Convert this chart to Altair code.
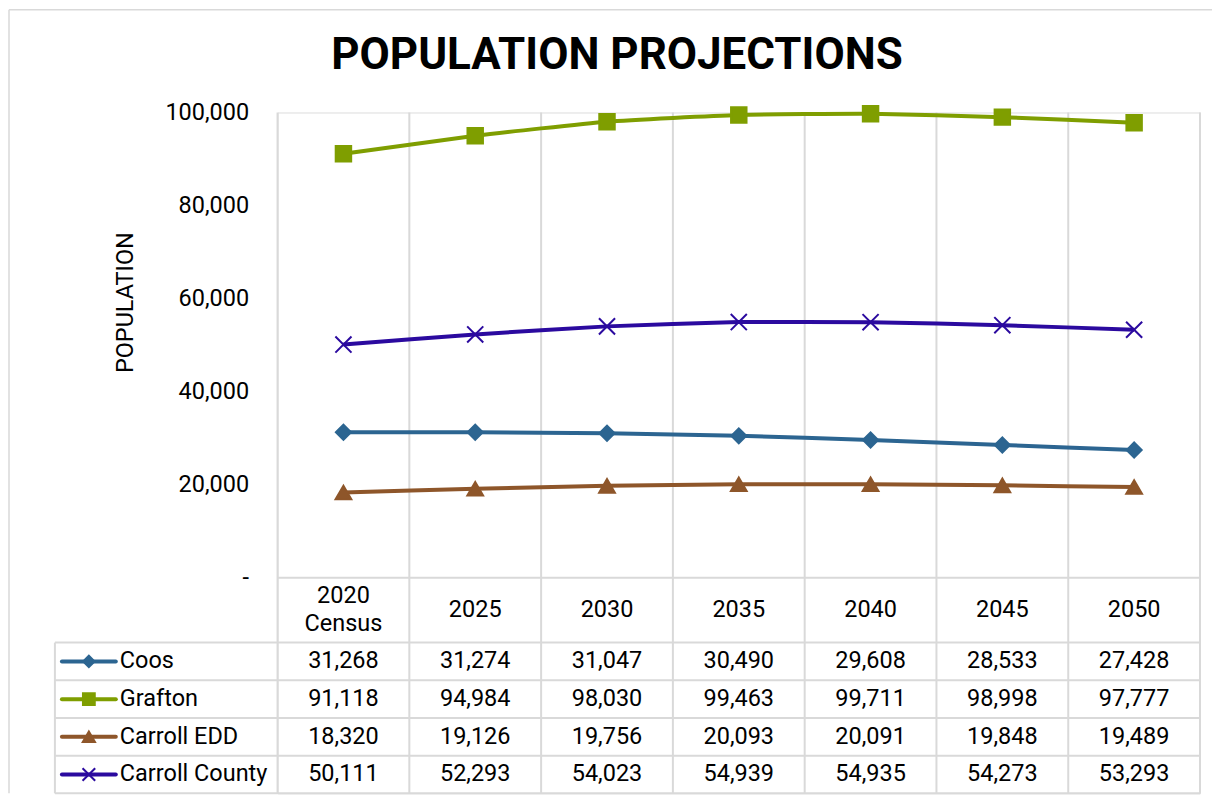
import altair as alt
import pandas as pd

# ---------------- data ----------------
categories = ["2020 Census", "2025", "2030", "2035", "2040", "2045", "2050"]
header_labels = ["2020\nCensus", "2025", "2030", "2035", "2040", "2045", "2050"]
series_names = ["Coos", "Grafton", "Carroll EDD", "Carroll County"]
coos = [31268, 31274, 31047, 30490, 29608, 28533, 27428]
grafton = [91118, 94984, 98030, 99463, 99711, 98998, 97777]
carroll_edd = [18320, 19126, 19756, 20093, 20091, 19848, 19489]
carroll_county = [50111, 52293, 54023, 54939, 54935, 54273, 53293]
y_ticks = [0, 20000, 40000, 60000, 80000, 100000]
title_text = "POPULATION PROJECTIONS"
y_title = "POPULATION"

# ---------------- styling ----------------
colors = ["#2C6591", "#7F9E00", "#8E562A", "#2B0A9F"]
shapes = ["diamond", "square", "triangle-up", "M-1,-1L1,1M-1,1L1,-1"]
sizes_plot = [230, 260, 270, 250]
sizes_leg = [130, 160, 170, 150]
GRID = "#D9D9D9"
FONT = "Roboto"
FS = 23.5
LH = 28

W = 924           # plot width (7 columns)
PLOT_H = 466      # population area height
HEAD_B = 531      # header bottom
TAB_B = 682       # table bottom
H = TAB_B

values_all = [coos, grafton, carroll_edd, carroll_county]
rows = []
for r, (name, vals) in enumerate(zip(series_names, values_all)):
    for i, (cat, v) in enumerate(zip(categories, vals)):
        rows.append({"series": name, "cat": cat, "xc": i + 0.5, "value": v,
                     "rc": r + 0.5, "label": f"{v:,}"})
df = pd.DataFrame(rows)
leg_df = pd.DataFrame({"series": series_names, "rc": [r + 0.5 for r in range(len(series_names))]})
head_df = pd.DataFrame({"lab": header_labels, "xc": [i + 0.5 for i in range(len(categories))]})
head_df["nl"] = head_df["lab"].str.count("\n")
head_single = head_df[head_df["nl"] == 0]
head_multi = head_df[head_df["nl"] > 0]
vlines = pd.DataFrame({"b": list(range(len(categories) + 1))})
hlines = pd.DataFrame({"r": list(range(len(series_names) + 1))})
title_df = pd.DataFrame({"t": [title_text]})

xs = alt.Scale(domain=[0, len(categories)], nice=False, zero=False)
pop_scale = alt.Scale(domain=[0, 100000], range=[PLOT_H, 0], nice=False, zero=False)
tab_scale = alt.Scale(domain=[0, len(series_names)], range=[HEAD_B, TAB_B], nice=False, zero=False)
cscale = alt.Scale(domain=series_names, range=colors)
shape_scale = alt.Scale(domain=series_names, range=shapes)
HEAD_C = (PLOT_H + HEAD_B) / 2

# frame
frame_top = alt.Chart(title_df).mark_rule(color=GRID, strokeWidth=1.5).encode(
    x=alt.value(-269), x2=alt.value(936), y=alt.value(-103))
frame_left = alt.Chart(title_df).mark_rule(color=GRID, strokeWidth=1.5).encode(
    x=alt.value(-269), y=alt.value(-103), y2=alt.value(TAB_B))

# title
title = alt.Chart(title_df).mark_text(font=FONT, fontSize=44, fontWeight="bold",
                                      align="center", baseline="alphabetic", color="#000").encode(
    x=alt.value(340), y=alt.value(-44), text="t:N")

# vertical grid / table column lines
vgrid = alt.Chart(vlines).mark_rule(color=GRID, strokeWidth=2).encode(
    x=alt.X("b:Q", scale=xs, axis=None), y=alt.value(0), y2=alt.value(TAB_B))
# header top line
head_top = alt.Chart(title_df).mark_rule(color=GRID, strokeWidth=2).encode(
    x=alt.value(0), x2=alt.value(W), y=alt.value(PLOT_H))
# row lines
hgrid = alt.Chart(hlines).mark_rule(color=GRID, strokeWidth=2).encode(
    x=alt.value(-223), x2=alt.value(W), y=alt.Y("r:Q", scale=tab_scale, axis=None))
left_border = alt.Chart(title_df).mark_rule(color=GRID, strokeWidth=2).encode(
    x=alt.value(-223), y=alt.value(HEAD_B), y2=alt.value(TAB_B))

# lines
lines = alt.Chart(df).mark_line(strokeWidth=4, interpolate="cardinal", tension=0.5).encode(
    x=alt.X("xc:Q", scale=xs, axis=None),
    y=alt.Y("value:Q", scale=pop_scale,
            axis=alt.Axis(values=y_ticks,
                          labelExpr="datum.value == 0 ? '-\u00a0\u00a0' : format(datum.value, ',')",
                          domain=False, ticks=False, grid=False, labelPadding=29,
                          labelFont=FONT, labelFontSize=FS, labelColor="#000",
                          title=y_title, titleFont=FONT, titleFontSize=FS, titleFontWeight="normal",
                          titleColor="#000", titleX=-152, titleY=190, titleAngle=270,
                          titleAlign="center", titleBaseline="middle")),
    color=alt.Color("series:N", scale=cscale, legend=None),
    detail="series:N")

points = alt.Chart(df).mark_point(filled=True, opacity=1, strokeWidth=2).encode(
    x=alt.X("xc:Q", scale=xs, axis=None),
    y=alt.Y("value:Q", scale=pop_scale, axis=None),
    fill=alt.Fill("series:N", scale=cscale, legend=None),
    stroke=alt.Stroke("series:N", scale=cscale, legend=None),
    shape=alt.Shape("series:N", scale=shape_scale, legend=None),
    size=alt.Size("series:N", scale=alt.Scale(domain=series_names, range=sizes_plot), legend=None))

# header texts
head_text1 = alt.Chart(head_single).mark_text(font=FONT, fontSize=FS, color="#000", align="center",
                                              baseline="middle").encode(
    x=alt.X("xc:Q", scale=xs, axis=None), y=alt.value(HEAD_C), text="lab:N")
head_text2 = alt.Chart(head_multi).mark_text(font=FONT, fontSize=FS, color="#000", align="center",
                                             baseline="middle", lineBreak="\n", lineHeight=LH,
                                             dy=-LH / 2).encode(
    x=alt.X("xc:Q", scale=xs, axis=None), y=alt.value(HEAD_C), text="lab:N")

# table values
cells = alt.Chart(df).mark_text(font=FONT, fontSize=FS, color="#000", align="center",
                                baseline="middle").encode(
    x=alt.X("xc:Q", scale=xs, axis=None),
    y=alt.Y("rc:Q", scale=tab_scale, axis=None),
    text="label:N")

# legend column
leg_line = alt.Chart(leg_df).mark_rule(strokeWidth=4, strokeCap="round").encode(
    x=alt.value(-216), x2=alt.value(-162),
    y=alt.Y("rc:Q", scale=tab_scale, axis=None),
    color=alt.Color("series:N", scale=cscale, legend=None))
leg_pt = alt.Chart(leg_df).mark_point(filled=True, opacity=1, strokeWidth=2).encode(
    x=alt.value(-189),
    y=alt.Y("rc:Q", scale=tab_scale, axis=None),
    fill=alt.Fill("series:N", scale=cscale, legend=None),
    stroke=alt.Stroke("series:N", scale=cscale, legend=None),
    shape=alt.Shape("series:N", scale=shape_scale, legend=None),
    size=alt.Size("series:N", scale=alt.Scale(domain=series_names, range=sizes_leg), legend=None))
leg_text = alt.Chart(leg_df).mark_text(font=FONT, fontSize=FS, color="#000", align="left",
                                       baseline="middle").encode(
    x=alt.value(-158),
    y=alt.Y("rc:Q", scale=tab_scale, axis=None),
    text="series:N")

chart = alt.layer(
    frame_top, frame_left, vgrid, head_top, hgrid, left_border,
    lines, points, head_text1, head_text2, cells, leg_line, leg_pt, leg_text, title
).resolve_scale(y="independent", size="independent").properties(
    width=W, height=H, padding=0
).configure_view(stroke=None).configure(background="white")

chart.save("out.html", embed_options={"renderer": "svg", "actions": False})
